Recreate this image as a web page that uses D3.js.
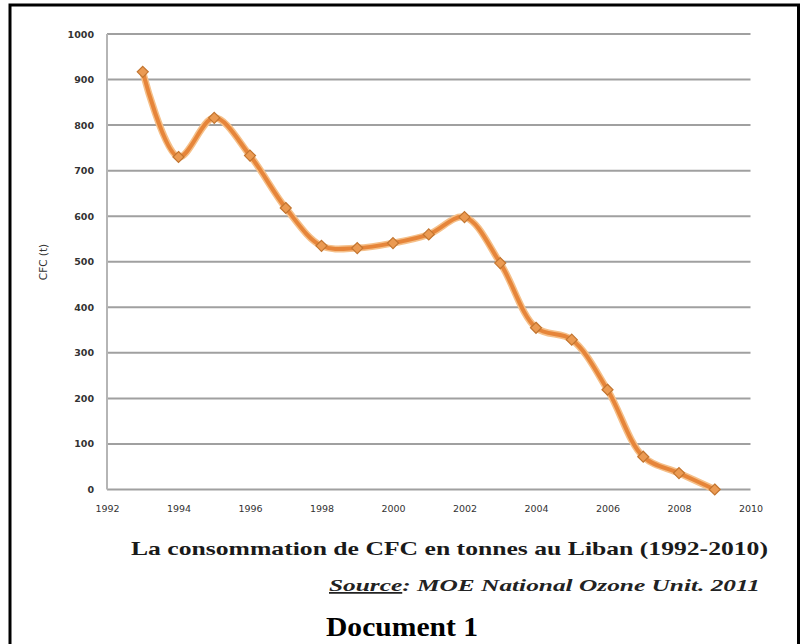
<!DOCTYPE html>
<html>
<head>
<meta charset="utf-8">
<script src="https://cdn.jsdelivr.net/npm/d3@7"></script>
<style>
body { margin: 0; background: #fff; }
svg { display: block; }
.tick text { font-family: "DejaVu Sans", sans-serif; fill: #333; }
</style>
</head>
<body>
<svg class="chart" width="801" height="644"></svg>
<script>
var years = [1993, 1994, 1995, 1996, 1997, 1998, 1999, 2000, 2001, 2002, 2003, 2004, 2005, 2006, 2007, 2008, 2009];
var cfc = [917, 730, 816, 733, 618, 535, 530, 541, 560, 598, 497, 355, 329, 219, 72, 36, 0];
var xTicks = [1992, 1994, 1996, 1998, 2000, 2002, 2004, 2006, 2008, 2010];
var yTicks = [0, 100, 200, 300, 400, 500, 600, 700, 800, 900, 1000];

var x = d3.scaleLinear().domain([1992, 2010]).range([107, 750.5]);
var y = d3.scaleLinear().domain([0, 1000]).range([489.5, 34]);

var svg = d3.select(".chart");

// frame
svg.append("path").attr("d", "M10,648 V5 H798.5 V648")
	.attr("fill", "none").attr("stroke", "#000").attr("stroke-width", 3);

// grid
svg.append("g").selectAll("line").data(yTicks).enter().append("line")
	.attr("x1", 107).attr("x2", 750.5)
	.attr("y1", function(d) { return y(d); }).attr("y2", function(d) { return y(d); })
	.attr("stroke", "#a0a0a0").attr("stroke-width", 2);

svg.append("line").attr("x1", 107).attr("x2", 107).attr("y1", y(1000)).attr("y2", y(0))
	.attr("stroke", "#b5b5b5").attr("stroke-width", 2);

// axes labels
var yAxis = svg.append("g").attr("transform", "translate(96,0)")
	.call(d3.axisLeft(y).tickValues(yTicks).tickSize(0).tickFormat(d3.format("d")));
yAxis.select(".domain").remove();
yAxis.selectAll("text").style("font-size", "9.5px").style("font-weight", "bold").attr("x", -2);

var xAxis = svg.append("g").attr("transform", "translate(0,500)")
	.call(d3.axisBottom(x).tickValues(xTicks).tickSize(0).tickFormat(d3.format("d")));
xAxis.select(".domain").remove();
xAxis.selectAll("text").style("font-size", "9.5px").attr("dy", "0.9em");

svg.append("text").attr("transform", "translate(47,262) rotate(-90)")
	.attr("text-anchor", "middle").style("font-family", "DejaVu Sans, sans-serif")
	.style("font-size", "10.5px").attr("fill", "#333").text("CFC (t)");

// line
var line = d3.line().x(function(d, i) { return x(years[i]); }).y(function(d) { return y(d); })
	.curve(d3.curveCatmullRom.alpha(0.5));

svg.append("path").datum(cfc).attr("d", line).attr("fill", "none")
	.attr("stroke", "#f5c08a").attr("stroke-width", 7).attr("stroke-linejoin", "round");
svg.append("path").datum(cfc).attr("d", line).attr("fill", "none")
	.attr("stroke", "#e6853a").attr("stroke-width", 4).attr("stroke-linejoin", "round");

svg.append("g").selectAll("path").data(cfc).enter().append("path")
	.attr("d", "M0,-5.5 L5.5,0 L0,5.5 L-5.5,0 Z")
	.attr("transform", function(d, i) { return "translate(" + x(years[i]) + "," + y(d) + ")"; })
	.attr("fill", "#eb9a52").attr("stroke", "#c27530").attr("stroke-width", 1.2);

// texts
svg.append("text").attr("x", 131).attr("y", 555)
	.attr("textLength", 637).attr("lengthAdjust", "spacingAndGlyphs")
	.style("font-family", "Liberation Serif, serif").style("font-weight", "bold")
	.style("font-size", "19px").attr("fill", "#1a1a1a")
	.text("La consommation de CFC en tonnes au Liban (1992-2010)");

var src = svg.append("text").attr("x", 329).attr("y", 591)
	.attr("textLength", 431).attr("lengthAdjust", "spacingAndGlyphs")
	.style("font-family", "Liberation Serif, serif").style("font-weight", "bold")
	.style("font-style", "italic").style("font-size", "17.5px").attr("fill", "#222");
src.append("tspan").style("text-decoration", "underline").text("Source");
src.append("tspan").text(": MOE National Ozone Unit. 2011");

svg.append("text").attr("x", 326).attr("y", 636)
	.attr("textLength", 152).attr("lengthAdjust", "spacingAndGlyphs")
	.style("font-family", "Liberation Serif, serif").style("font-weight", "bold")
	.style("font-size", "28px").attr("fill", "#000").text("Document 1");
</script>
</body>
</html>
